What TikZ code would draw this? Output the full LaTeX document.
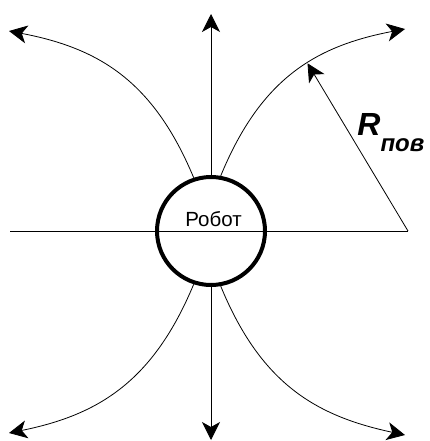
\documentclass[tikz,border=0pt]{standalone}
\usepackage{fontspec}
\setmainfont{Liberation Sans}
\usetikzlibrary{arrows.meta}

\begin{document}
\begin{tikzpicture}[x=1pt, y=-1pt,
  line width=0.8pt,
  arr/.style={-{Stealth[length=18pt, width=18pt, inset=5pt]}},
  axis/.style={line width=1pt},
  robotbox/.style={circle, draw, line width=4pt, minimum size=108pt, inner sep=0pt},
  lbl/.style={font=\fontsize{20.5}{24}\selectfont, anchor=base, inner sep=0pt},
  rlab/.style={font=\bfseries\itshape\fontsize{32}{36}\selectfont, anchor=base west, inner sep=0pt}]
\useasboundingbox (0,0) rectangle (430,441);
% ---------- axis and robot
\coordinate (west) at (10,231);
\coordinate (east) at (408,231);
\draw[axis] (west) -- (east);
\node[robotbox] (robot) at (211,231) {};
\node[lbl] (name) at (213.5,226.5) {Робот};
% ---------- free ends
\coordinate (top) at (211,14);
\coordinate (bottom) at (211,440);
\coordinate (ul) at (9,31);
\coordinate (ur) at (405,29);
\coordinate (ll) at (9,433);
\coordinate (lr) at (405,435);
% ---------- field lines
\draw[axis, arr] (robot.north) -- (top);
\draw[axis, arr] (robot.south) -- (bottom);
\draw[arr] (robot.108) .. controls (153,80) and (98,48) .. (ul);
\draw[arr] (robot.80) .. controls (261,78) and (316,46) .. coordinate[pos=0.57] (rtip) (ur);
\draw[arr] (robot.-108) .. controls (153,382) and (98,415) .. (ll);
\draw[arr] (robot.-80) .. controls (261,384) and (316,416) .. (lr);
% ---------- radius
\draw[arr] (east) -- (rtip);
\node[rlab] (rpov) at (357,135) {R\raisebox{-17pt}{\fontsize{24}{28}\selectfont пов}};
\end{tikzpicture}
\end{document}
